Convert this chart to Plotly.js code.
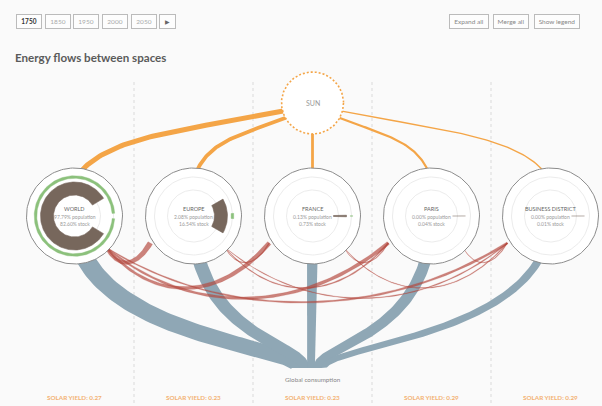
<!DOCTYPE html>
<html><head><meta charset="utf-8">
<script src="https://cdn.plot.ly/plotly-3.0.1.min.js"></script>
<style>html,body{margin:0;padding:0;background:#fafafa;}#chart{width:602px;height:406px;}</style>
</head><body><div id="chart"></div>
<script>
// ---------------- data ----------------
const spaces = ['WORLD', 'EUROPE', 'FRANCE', 'PARIS', 'BUSINESS DISTRICT'];
const populationPct = [97.79, 2.08, 0.13, 0.00, 0.00];
const stockPct = [82.60, 16.54, 0.73, 0.04, 0.01];
const solarYield = [0.27, 0.23, 0.23, 0.29, 0.29];
const sunInput = [5, 3.8, 2.8, 2.2, 1.4];          // solar flow into each space
const consumption = [19, 14, 11, 12, 8];            // flow to global consumption
const exchangeFrom = [0, 0, 0, 0, 1, 1, 1, 2, 2, 3];
const exchangeTo   = [1, 2, 3, 4, 2, 3, 4, 3, 4, 4];
const exchangeValue = [6, 5, 4, 2.5, 1, 1.5, 1.2, 0.8, 1, 0.8];
const years = ['1750', '1850', '1950', '2000', '2050'];
const activeYear = '1750';
const actions = ['Expand all', 'Merge all', 'Show legend'];
const chartTitle = 'Energy flows between spaces';

// ---------------- layout constants ----------------
const W = 602, H = 406;
const colX0 = 15, colW = 119;
const nodeY = 216, nodeR = 48;
const sun = {x: 312.5, y: 103, r: 31};
const sinkY = 368;
const cx = i => colX0 + colW * (i + 0.5);
const FONT = 'Lato, "Open Sans", sans-serif';

const ORANGE = '#f4a547', BLUE = '#8fa7b5', RED = 'rgba(180,72,62,0.68)';
const BROWN = '#77675c', GREEN = '#8cc17c';

// ---------------- helpers ----------------
function bez(P, t) {
  const u = 1 - t;
  return [0, 1].map(k => u*u*u*P[0][k] + 3*u*u*t*P[1][k] + 3*u*t*t*P[2][k] + t*t*t*P[3][k]);
}
function bezD(P, t) {
  const u = 1 - t;
  return [0, 1].map(k => 3*u*u*(P[1][k]-P[0][k]) + 6*u*t*(P[2][k]-P[1][k]) + 3*t*t*(P[3][k]-P[2][k]));
}
function curve(P, n) {
  const x = [], y = [];
  for (let k = 0; k <= n; k++) { const p = bez(P, k/n); x.push(p[0]); y.push(p[1]); }
  return {x, y};
}
function ribbon(P, w0, w1, n) {
  const L = [], R = [];
  for (let k = 0; k <= n; k++) {
    const t = k / n, p = bez(P, t), d = bezD(P, t);
    const len = Math.hypot(d[0], d[1]) || 1;
    const nx = -d[1] / len, ny = d[0] / len, w = (w0 + (w1 - w0) * t) / 2;
    L.push([p[0] + nx*w, p[1] + ny*w]); R.push([p[0] - nx*w, p[1] - ny*w]);
  }
  const pts = L.concat(R.reverse()); pts.push(pts[0]);
  return {x: pts.map(p => p[0]), y: pts.map(p => p[1])};
}
function circlePts(x0, y0, r, n) {
  const x = [], y = [];
  for (let k = 0; k <= n; k++) { const a = 2*Math.PI*k/n; x.push(x0 + r*Math.cos(a)); y.push(y0 + r*Math.sin(a)); }
  return {x, y};
}
function sector(x0, y0, r0, r1, a0, a1) {
  const n = Math.max(2, Math.ceil(Math.abs(a1 - a0) / 2));
  const x = [], y = [];
  for (let k = 0; k <= n; k++) { const a = (a0 + (a1-a0)*k/n) * Math.PI/180; x.push(x0 + r1*Math.cos(a)); y.push(y0 + r1*Math.sin(a)); }
  for (let k = n; k >= 0; k--) { const a = (a0 + (a1-a0)*k/n) * Math.PI/180; x.push(x0 + r0*Math.cos(a)); y.push(y0 + r0*Math.sin(a)); }
  x.push(x[0]); y.push(y[0]);
  return {x, y};
}
const base = {type: 'scatter', mode: 'lines', hoverinfo: 'skip', showlegend: false};
const traces = [];

// ---------------- sun flows ----------------
spaces.forEach((s, i) => {
  const x = cx(i);
  const ex = x + 0.025 * (sun.x - x), ey = nodeY - nodeR + 4;
  const dxs = ex - sun.x, dys = (nodeY - nodeR) - sun.y, l = Math.hypot(dxs, dys);
  const sx = sun.x + (sun.r - 2) * dxs / l, sy = sun.y + (sun.r - 2) * dys / l;
  const dx = ex - sx, dy = ey - sy;
  const P = [[sx, sy], [sx + 0.45*dx, sy + 0.3*dy], [ex - 0.15*dx, ey - 0.6*dy], [ex, ey]];
  const c = curve(P, 60);
  traces.push(Object.assign({}, base, c, {line: {color: ORANGE, width: sunInput[i]}}));
});

// ---------------- consumption flows (blue) ----------------
const bottomSpacing = 6.5, sinkX = 311;
spaces.forEach((s, i) => {
  const x0 = cx(i), y0 = nodeY;
  const x1 = sinkX + (i - 2) * bottomSpacing, y1 = sinkY;
  const dy = y1 - y0;
  const P = [[x0, y0], [x0, y0 + 0.8*dy], [x1, y1 - 24], [x1, y1]];
  const rb = ribbon(P, consumption[i], consumption[i] * 0.7, 90);
  traces.push(Object.assign({}, base, rb, {fill: 'toself', fillcolor: BLUE, line: {width: 0, color: BLUE}}));
});

// ---------------- exchanges between spaces (red) ----------------
exchangeFrom.forEach((f, k) => {
  const t = exchangeTo[k];
  const a0 = 45 * Math.PI/180, a1 = 148 * Math.PI/180;
  const sx = cx(f) + (nodeR - 4) * Math.cos(a0), sy = nodeY + (nodeR - 4) * Math.sin(a0);
  const ex = cx(t) + (nodeR + 3) * Math.cos(a1), ey = nodeY + (nodeR + 3) * Math.sin(a1);
  const d = ex - sx;
  const dip = 60 * (1 - Math.exp(-d / 130)), D = dip / 0.75;
  const P = [[sx, sy], [sx + 0.3*d, sy + D], [ex - 0.3*d, ey + D], [ex, ey]];
  const rb = ribbon(P, exchangeValue[k] * 0.4, exchangeValue[k] * 0.85, 80);
  traces.push(Object.assign({}, base, rb, {fill: 'toself', fillcolor: RED, line: {width: 0.3, color: RED}}));
});

// ---------------- space nodes ----------------
spaces.forEach((s, i) => {
  const x = cx(i);
  traces.push(Object.assign({}, base, circlePts(x, nodeY, nodeR, 160),
    {fill: 'toself', fillcolor: '#ffffff', line: {color: '#8c8c8c', width: 1}}));
  [39, 26].forEach(r => traces.push(Object.assign({}, base, circlePts(x, nodeY, r, 120),
    {line: {color: '#ececec', width: 1}})));
  const sSpan = stockPct[i] / 100 * 360;
  if (sSpan > 0) {
    const c = sSpan > 180 ? 180 : 0;
    traces.push(Object.assign({}, base, sector(x, nodeY, 21, 34, c - sSpan/2, c + sSpan/2),
      {fill: 'toself', fillcolor: BROWN, line: {color: BROWN, width: sSpan < 1 ? 0.3 : 0.6}}));
  }
  const pSpan = populationPct[i] / 100 * 360;
  if (pSpan > 0) {
    const c = pSpan > 180 ? 180 : 0;
    traces.push(Object.assign({}, base, sector(x, nodeY, 37.7, 40.3, c - pSpan/2, c + pSpan/2),
      {fill: 'toself', fillcolor: GREEN, line: {color: GREEN, width: 0.4}}));
  }
});

// ---------------- sun ----------------
traces.push(Object.assign({}, base, circlePts(sun.x, sun.y, sun.r, 160),
  {fill: 'toself', fillcolor: '#ffffff', line: {color: ORANGE, width: 1.6, dash: '2px,2px'}}));

// ---------------- annotations ----------------
const ann = [];
const txt = (x, y, text, size, color, extra) => ann.push(Object.assign({
  x, y, xref: 'x', yref: 'y', text, showarrow: false, xanchor: 'center', yanchor: 'middle',
  font: {family: FONT, size, color}}, extra || {}));

years.forEach((yv, i) => {
  const on = yv === activeYear;
  txt(29 + 28.7*i, 21.5, on ? '<b>' + yv + '</b>' : yv, 6.5, on ? '#333' : '#aaa',
    {width: 24, height: 13, bordercolor: '#bbb', borderwidth: 1, borderpad: 0, bgcolor: '#fdfdfd'});
});
txt(167.5, 21.5, '▶', 5.5, '#666', {width: 15, height: 13, bordercolor: '#bbb', borderwidth: 1, borderpad: 0, bgcolor: '#fdfdfd'});
const actX = [469, 511, 557], actW = [40, 36, 46];
actions.forEach((a, i) => txt(actX[i], 21.5, a, 6.5, '#888',
  {width: actW[i] - 2, height: 13, bordercolor: '#bbb', borderwidth: 1, borderpad: 0, bgcolor: '#fdfdfd'}));

txt(13, 57, '<b>' + chartTitle + '</b>', 11.6, '#5a5a5a', {xanchor: 'left'});
txt(sun.x, sun.y, 'SUN', 7, '#9a9a9a');

spaces.forEach((s, i) => {
  const x = cx(i);
  txt(x, nodeY - 7, s, 5.5, '#666');
  txt(x, nodeY + 1, populationPct[i].toFixed(2) + '% population', 5, '#999');
  txt(x, nodeY + 8, stockPct[i].toFixed(2) + '% stock', 5, '#999');
  txt(x, 397, '<b>SOLAR YIELD: ' + solarYield[i].toFixed(2) + '</b>', 6.3, '#f3b273');
});
txt(sinkX + 1.5, 379, 'Global consumption', 6.3, '#888');

// ---------------- dividers ----------------
const shapes = [1, 2, 3, 4].map(k => ({type: 'line', xref: 'x', yref: 'y', layer: 'below',
  x0: colX0 + colW*k, x1: colX0 + colW*k, y0: 82, y1: H,
  line: {color: '#dadada', width: 1, dash: 'dot'}}));

const layout = {
  width: W, height: H, margin: {l: 0, r: 0, t: 0, b: 0}, autosize: false,
  paper_bgcolor: '#fafafa', plot_bgcolor: '#fafafa',
  xaxis: {range: [0, W], visible: false, fixedrange: true},
  yaxis: {range: [H, 0], visible: false, fixedrange: true},
  showlegend: false, annotations: ann, shapes,
  font: {family: FONT}
};
Plotly.newPlot('chart', traces, layout, {staticPlot: true, displayModeBar: false});
</script></body></html>
